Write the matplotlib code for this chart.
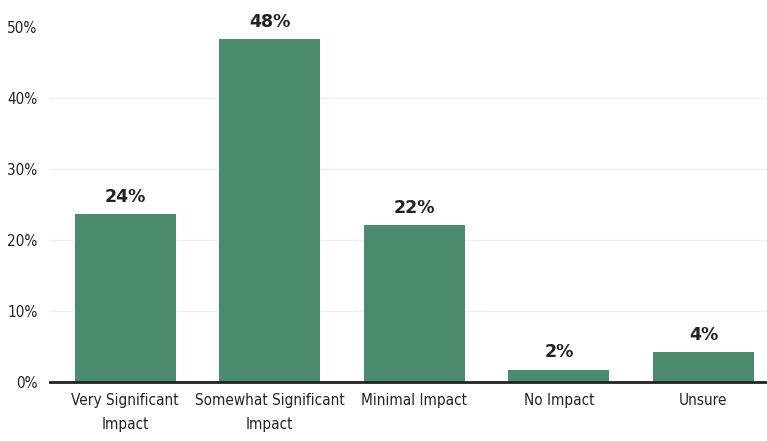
import matplotlib.pyplot as plt
import numpy as np

categories = ["Very Significant\nImpact", "Somewhat Significant\nImpact", "Minimal Impact", "No Impact", "Unsure"]
values = [23.6, 48.3, 22.1, 1.7, 4.2]
labels = ["24%", "48%", "22%", "2%", "4%"]
yticks = [0, 10, 20, 30, 40, 50]

plt.rcParams['font.family'] = ['DejaVu Sans']
plt.rcParams['font.stretch'] = 'condensed'

fig = plt.figure(figsize=(7.67, 4.41), dpi=100)
ax = fig.add_axes([50/767, 59/441, 717/767, 355/441])

x = np.arange(len(categories))
bars = ax.bar(x, values, width=0.70, color="#4b8b6d", zorder=2)

for b, lab in zip(bars, labels):
    ax.text(b.get_x() + b.get_width()/2, b.get_height() + 1.2, lab,
            ha="center", va="bottom", fontsize=12.5, fontweight="bold",
            fontstretch="normal", color="#222222", clip_on=False)

ax.set_xlim(-0.52, 4.44)
ax.set_ylim(0, 50)
ax.set_yticks(yticks)
ax.set_yticklabels([f"{t}%" for t in yticks], fontsize=11, color="#222222")
ax.set_xticks(x)
ax.set_xticklabels(categories, fontsize=11, color="#222222", linespacing=1.7)

for t in yticks[1:-1]:
    ax.axhline(t, color="#eeeeee", lw=1, zorder=1)

for s in ["top", "right", "left"]:
    ax.spines[s].set_visible(False)
ax.spines["bottom"].set_color("#222222")
ax.spines["bottom"].set_linewidth(2)
ax.tick_params(axis="both", length=0)
ax.tick_params(axis="y", pad=9)
ax.tick_params(axis="x", pad=8)

fig.savefig("out.png", dpi=100)
